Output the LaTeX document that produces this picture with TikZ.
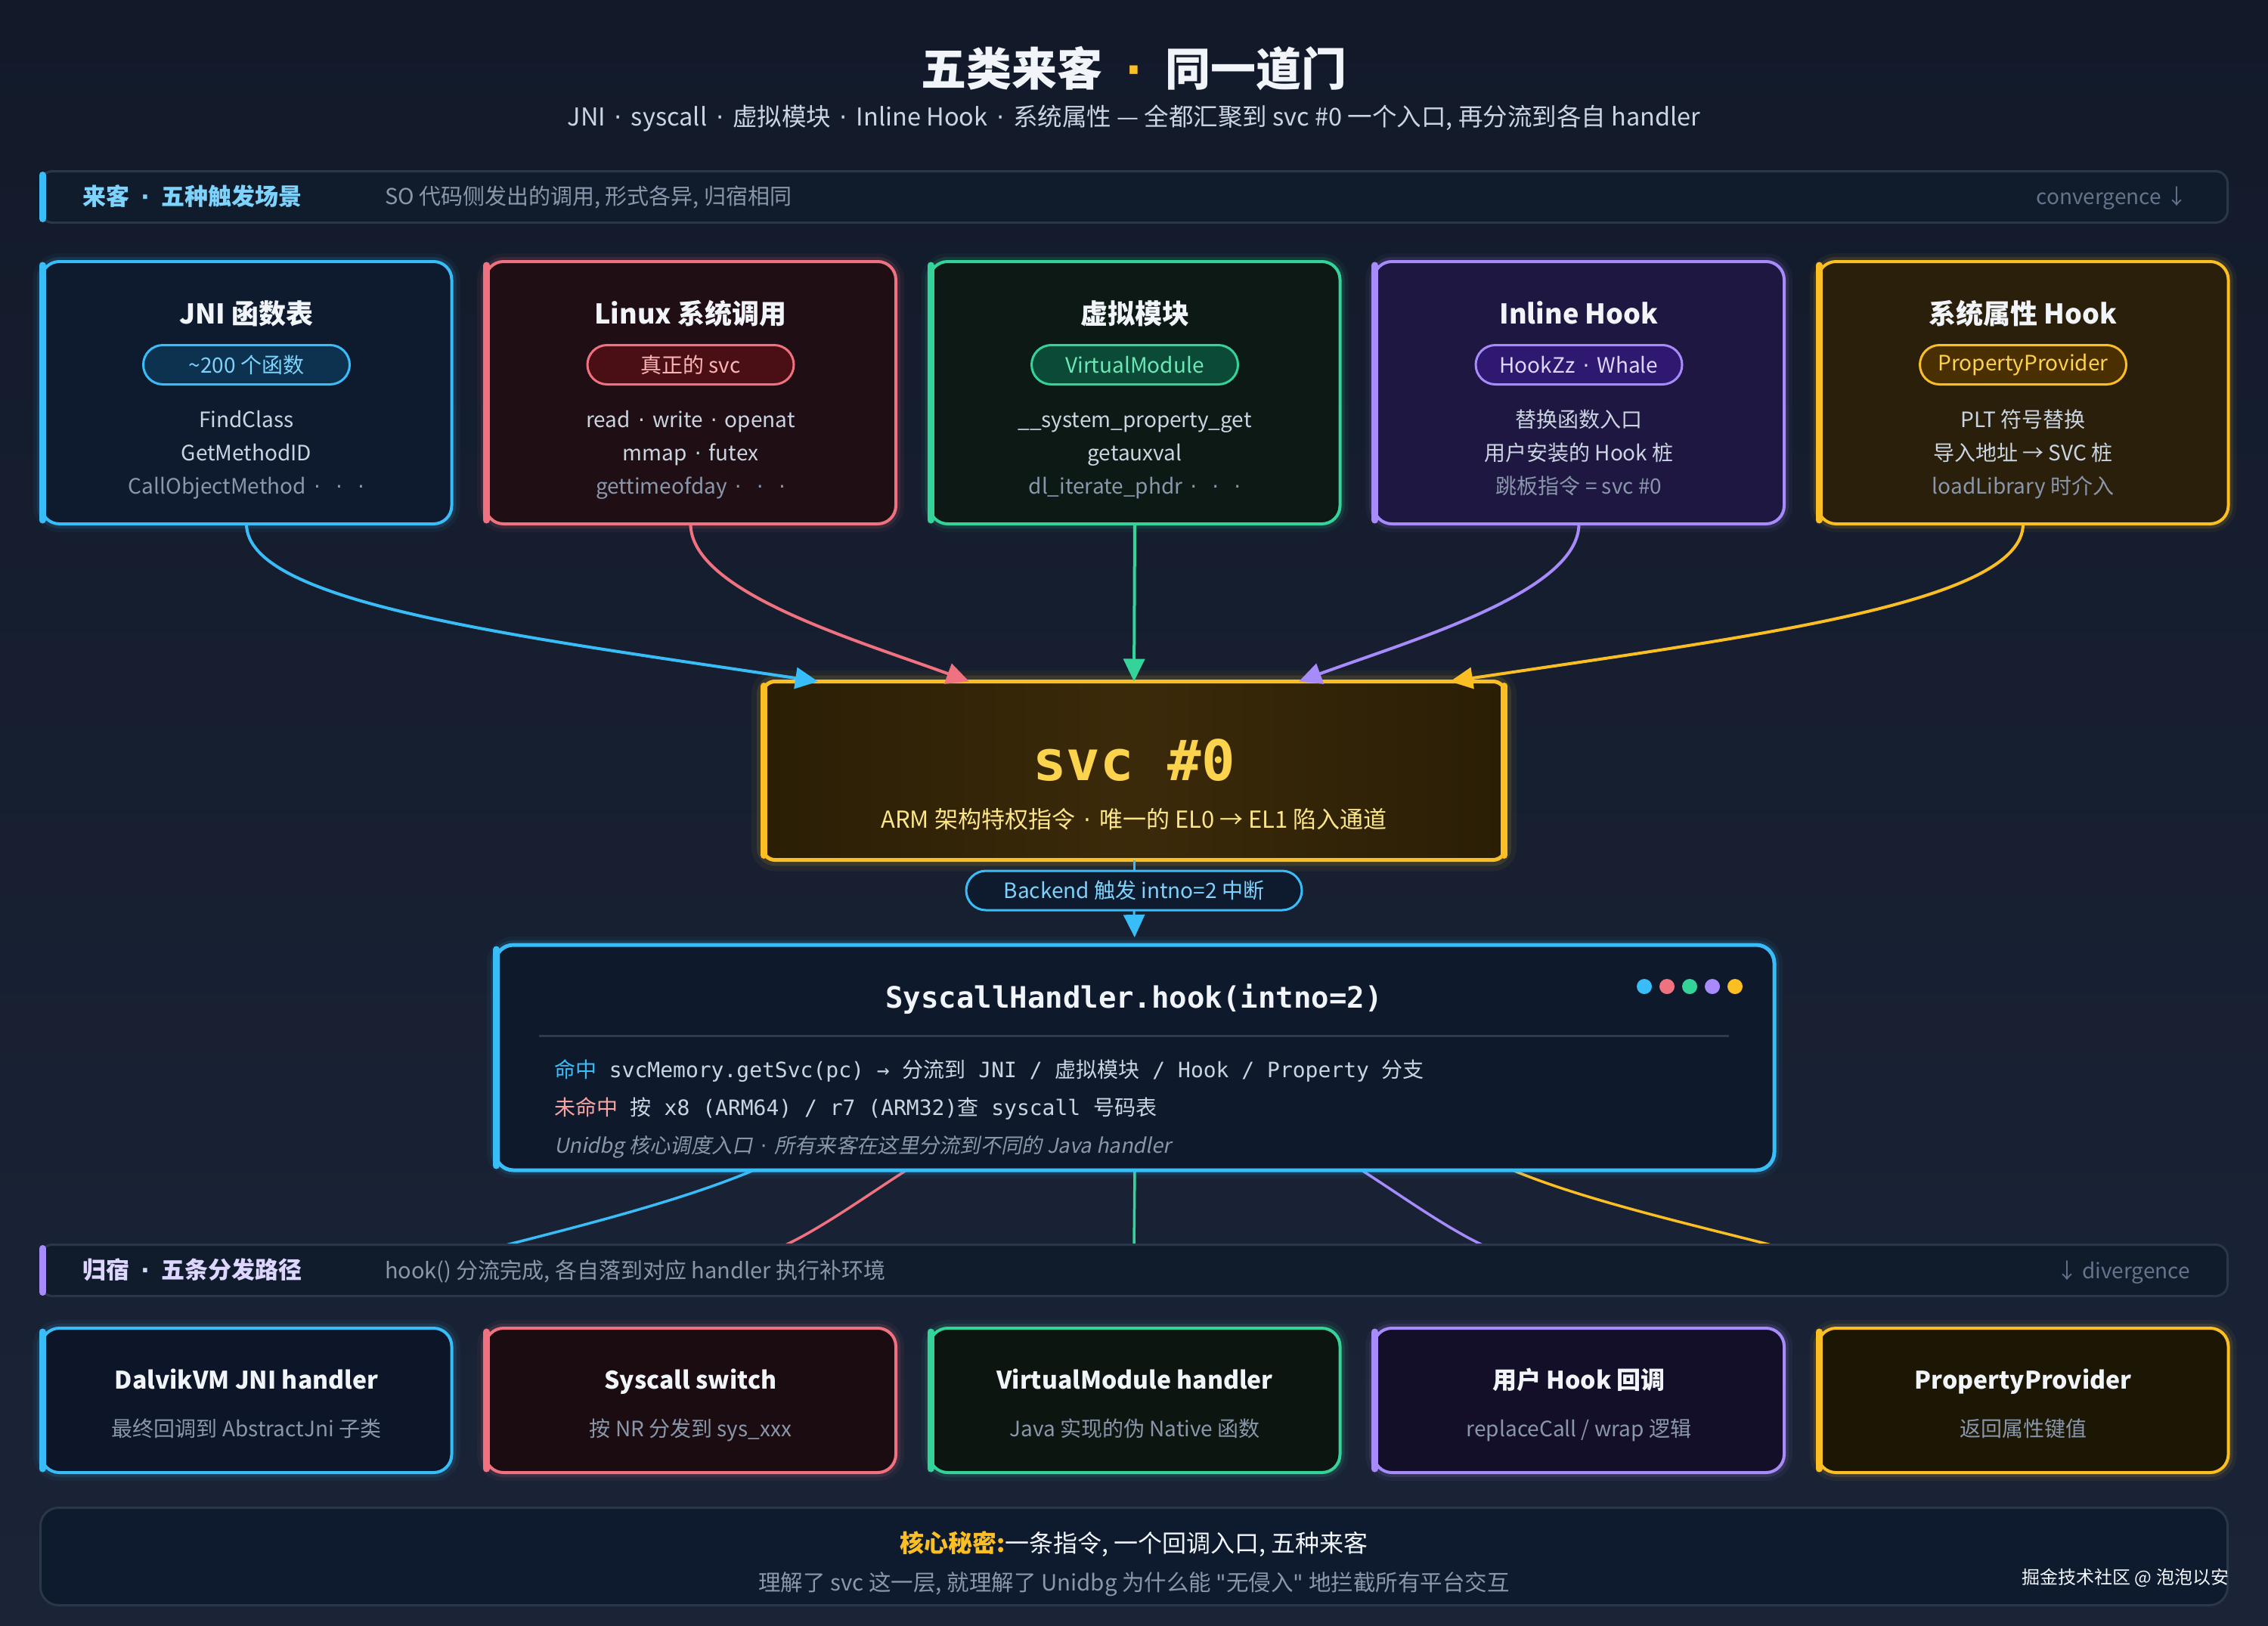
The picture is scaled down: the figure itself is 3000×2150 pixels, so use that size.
\documentclass[tikz,border=0pt]{standalone}
\usepackage{fontspec}
\setmainfont{Noto Sans CJK SC}
\newfontfamily\monof{DejaVu Sans Mono}
\newfontfamily\cjkf{Noto Sans CJK SC}
\newfontfamily\cjkit{Noto Sans CJK SC}[FakeSlant=0.2]
\newfontfamily\dejavu{DejaVu Sans}
\newcommand{\md}{\hspace{0.36em}{\dejavu ·}\hspace{0.36em}}
\newcommand{\mdw}{\hspace{0.5em}{\dejavu ·}\hspace{0.5em}}
\newcommand{\sq}{{\dejavu "}}
\usetikzlibrary{arrows.meta,calc}

\definecolor{bgtop}{HTML}{121A2A}
\definecolor{bgbot}{HTML}{1B2437}
\definecolor{cy}{HTML}{38BDF8}
\definecolor{pk}{HTML}{F0717F}
\definecolor{gn}{HTML}{34D399}
\definecolor{pu}{HTML}{A78BFA}
\definecolor{am}{HTML}{FBBF24}
\definecolor{txtW}{HTML}{F1F5F9}
\definecolor{txtL}{HTML}{CBD5E1}
\definecolor{txtD}{HTML}{8A97AB}
\definecolor{txtM}{HTML}{64748B}
\definecolor{barfill}{HTML}{101B2C}
\definecolor{barline}{HTML}{2A374B}
\definecolor{fcy}{HTML}{0E1B2E}
\definecolor{fpk}{HTML}{1F0E14}
\definecolor{fgn}{HTML}{0C1915}
\definecolor{fpu}{HTML}{1D1741}
\definecolor{fam}{HTML}{2A1F0B}
\definecolor{bcy}{HTML}{0C1628}
\definecolor{bpk}{HTML}{1A0C10}
\definecolor{bgn}{HTML}{0C1510}
\definecolor{bpu}{HTML}{140F29}
\definecolor{bam}{HTML}{1C1705}
\definecolor{pcy}{HTML}{0C3250}
\definecolor{ppk}{HTML}{4A0F14}
\definecolor{pgn}{HTML}{0B4A36}
\definecolor{ppu}{HTML}{2E1870}
\definecolor{pam}{HTML}{4A2F03}
\definecolor{tcy}{HTML}{7DD3FC}
\definecolor{tpk}{HTML}{FCB4B4}
\definecolor{tgn}{HTML}{6EE7B7}
\definecolor{tpu}{HTML}{DDD6FE}
\definecolor{tam}{HTML}{FCD34D}
\definecolor{amL}{HTML}{FDE68A}
\definecolor{svcA}{HTML}{2A1E05}
\definecolor{svcB}{HTML}{3B2A0A}
\definecolor{hdfill}{HTML}{0E1A2C}
\definecolor{sepc}{HTML}{2E3B4F}
\definecolor{miss}{HTML}{F9A3A3}
\definecolor{navy}{HTML}{0E1A2E}

\pgfdeclarelayer{back}
\pgfdeclarelayer{mid}
\pgfsetlayers{back,mid,main}

\tikzset{
  every node/.style={inner sep=0pt, outer sep=0pt},
  glow/.style={preaction={draw=#1, line width=22pt, draw opacity=0.05},
               preaction={draw=#1, line width=12pt, draw opacity=0.12}},
  topcard/.style={draw=#1, line width=4pt, rounded corners=24pt,
     minimum width=543pt, minimum height=347pt, glow=#1},
  botcard/.style={draw=#1, line width=4pt, rounded corners=24pt,
     minimum width=543pt, minimum height=191pt, glow=#1},
  stripe/.style={#1, line width=9pt, line cap=round},
  pill/.style={draw=#1, line width=3pt, rounded corners=26pt,
     minimum width=273pt, minimum height=52pt, font=\fontsize{28}{28}\selectfont},
  ctitle/.style={font=\fontsize{36}{36}\selectfont\bfseries, text=txtW, anchor=base},
  btitle/.style={font=\fontsize{32}{32}\selectfont\bfseries, text=txtW, anchor=base},
  cline/.style={font=\fontsize{28}{28}\selectfont, text=txtL, anchor=base},
  cdim/.style={font=\fontsize{28}{28}\selectfont, text=txtD, anchor=base},
  bsub/.style={font=\fontsize{28}{28}\selectfont, text=txtD, anchor=base},
  bar/.style={fill=barfill, draw=barline, line width=3pt, rounded corners=16pt,
     minimum width=2893pt, minimum height=68pt},
  flow/.style={line width=4pt, -{Triangle[length=30pt,width=28pt]}},
  outflow/.style={line width=3.5pt},
  dot/.style={circle, fill=#1, minimum size=20pt},
}

\begin{document}
\begin{tikzpicture}[x=1pt,y=-1pt]
\useasboundingbox (0,0) rectangle (3000,2150);
\begin{pgfonlayer}{back}
\shade[top color=bgtop, bottom color=bgbot] (0,0) rectangle (3000,2150);
\end{pgfonlayer}

% ---------- header ----------
\node[font=\fontsize{60}{60}\selectfont\bfseries, text=txtW] (title) at (1500,91)
  {五类来客{\color{am}\mdw}同一道门};
\node[font=\fontsize{32.5}{32.5}\selectfont, text=txtL, anchor=base] (sub) at (1500,166)
  {JNI\md syscall\md 虚拟模块\md Inline Hook\md 系统属性 — 全都汇聚到 svc \#0 一个入口, 再分流到各自 handler};

% ---------- section bar 1 ----------
\node[bar] (bar1) at (1500,260.5) {};
\draw[stripe=cy] ($(bar1.north west)+(3,5)$) -- ($(bar1.south west)+(3,-5)$);
\node[anchor=base west, font=\fontsize{31}{31}\selectfont\bfseries, text=tcy] (bar1l) at (109,271) {来客\mdw 五种触发场景};
\node[anchor=base west, font=\fontsize{29}{29}\selectfont, text=txtD] (bar1s) at (509,270) {SO 代码侧发出的调用, 形式各异, 归宿相同};
\node[anchor=base east, font=\fontsize{28}{28}\selectfont, text=txtM] (bar1r) at (2893,270) {convergence ↓};

% ---------- top cards ----------
\node[topcard=cy, fill=fcy] (c1) at (326,519.5) {};
\node[topcard=pk, fill=fpk] (c2) at (913.5,519.5) {};
\node[topcard=gn, fill=fgn] (c3) at (1501,519.5) {};
\node[topcard=pu, fill=fpu] (c4) at (2088.5,519.5) {};
\node[topcard=am, fill=fam] (c5) at (2676,519.5) {};
\draw[stripe=cy] ($(c1.north west)+(1.5,5)$) -- ($(c1.south west)+(1.5,-5)$);
\draw[stripe=pk] ($(c2.north west)+(1.5,5)$) -- ($(c2.south west)+(1.5,-5)$);
\draw[stripe=gn] ($(c3.north west)+(1.5,5)$) -- ($(c3.south west)+(1.5,-5)$);
\draw[stripe=pu] ($(c4.north west)+(1.5,5)$) -- ($(c4.south west)+(1.5,-5)$);
\draw[stripe=am] ($(c5.north west)+(1.5,5)$) -- ($(c5.south west)+(1.5,-5)$);

\node[ctitle] (c1t) at (326,428) {JNI 函数表};
\node[pill=cy, fill=pcy, text=tcy] (c1p) at (326,482.5) {\textasciitilde200 个函数};
\node[cline] (c1a) at (326,565) {FindClass};
\node[cline] (c1b) at (326,609) {GetMethodID};
\node[cdim] (c1c) at (326,653) {CallObjectMethod\md\md\md};

\node[ctitle] (c2t) at (913.5,428) {Linux 系统调用};
\node[pill=pk, fill=ppk, text=tpk] (c2p) at (913.5,482.5) {真正的 svc};
\node[cline] (c2a) at (913.5,565) {read\md write\md openat};
\node[cline] (c2b) at (913.5,609) {mmap\md futex};
\node[cdim] (c2c) at (913.5,653) {gettimeofday\md\md\md};

\node[ctitle] (c3t) at (1501,428) {虚拟模块};
\node[pill=gn, fill=pgn, text=tgn] (c3p) at (1501,482.5) {VirtualModule};
\node[cline] (c3a) at (1501,565) {\_\_system\_property\_get};
\node[cline] (c3b) at (1501,609) {getauxval};
\node[cdim] (c3c) at (1501,653) {dl\_iterate\_phdr\md\md\md};

\node[ctitle] (c4t) at (2088.5,428) {Inline Hook};
\node[pill=pu, fill=ppu, text=tpu] (c4p) at (2088.5,482.5) {HookZz\md Whale};
\node[cline] (c4a) at (2088.5,565) {替换函数入口};
\node[cline] (c4b) at (2088.5,609) {用户安装的 Hook 桩};
\node[cdim] (c4c) at (2088.5,653) {跳板指令 = svc \#0};

\node[ctitle] (c5t) at (2676,428) {系统属性 Hook};
\node[pill=am, fill=pam, text=tam] (c5p) at (2676,482.5) {PropertyProvider};
\node[cline] (c5a) at (2676,565) {PLT 符号替换};
\node[cline] (c5b) at (2676,609) {导入地址 → SVC 桩};
\node[cdim] (c5c) at (2676,653) {loadLibrary 时介入};

% ---------- svc box ----------
\node[draw=am, line width=5pt, rounded corners=16pt, minimum width=982pt, minimum height=236pt,
      left color=svcA, right color=svcA, middle color=svcB,
      preaction={draw=am, line width=30pt, draw opacity=0.05},
      preaction={draw=am, line width=16pt, draw opacity=0.12}] (svc) at (1500,1019.5) {};
\draw[stripe=am] ($(svc.north west)+(1.5,6)$) -- ($(svc.south west)+(1.5,-6)$);
\draw[stripe=am] ($(svc.north east)+(-1.5,6)$) -- ($(svc.south east)+(-1.5,-6)$);
\node[font=\monof\bfseries\fontsize{74}{74}\selectfont, text=tam, anchor=base] (svct) at (1500,1032) {svc \#0};
\node[font=\fontsize{31}{31}\selectfont, text=amL, anchor=base] (svcs) at (1500,1095)
  {ARM 架构特权指令\md 唯一的 EL0 → EL1 陷入通道};

% ---------- incoming connectors ----------
\coordinate (s1) at ($(svc.north)+(-418,0)$);
\coordinate (s2) at ($(svc.north)+(-218,0)$);
\coordinate (s3) at (svc.north);
\coordinate (s4) at ($(svc.north)+(218,0)$);
\coordinate (s5) at ($(svc.north)+(418,0)$);
\draw[flow, cy] (c1.south) .. controls +(0,105) and +(-400,-60) .. (s1);
\draw[flow, pk] (c2.south) .. controls +(0,90) and +(-150,-55) .. (s2);
\draw[flow, gn] (c3.south) -- (s3);
\draw[flow, pu] (c4.south) .. controls +(0,90) and +(150,-55) .. (s4);
\draw[flow, am] (c5.south) .. controls +(0,105) and +(400,-60) .. (s5);

% ---------- backend pill ----------
\node[draw=cy, line width=3pt, fill=navy, rounded corners=26pt, minimum width=444pt,
      minimum height=52pt, font=\fontsize{28}{28}\selectfont, text=tcy] (bk) at (1500,1178)
  {Backend 触发 intno=2 中断};

% ---------- handler ----------
\node[draw=cy, line width=5pt, rounded corners=24pt, fill=hdfill, minimum width=1692pt,
      minimum height=298pt, glow=cy] (hd) at (1501,1399) {};
\draw[stripe=cy] ($(hd.north west)+(1.5,6)$) -- ($(hd.south west)+(1.5,-6)$);
\draw[cy, line width=3pt] (svc.south) -- (bk.north);
\draw[cy, line width=3pt, -{Triangle[length=30pt,width=28pt]}, shorten >=10pt] (bk.south) -- (hd.north);
\node[font=\monof\bfseries\fontsize{39}{39}\selectfont, text=txtW, anchor=base] (hdt) at (1500,1333)
  {SyscallHandler.hook(intno=2)};
\node[dot=cy] (d1) at (2175,1305) {};
\node[dot=pk] (d2) at (2205,1305) {};
\node[dot=gn] (d3) at (2235,1305) {};
\node[dot=pu] (d4) at (2265,1305) {};
\node[dot=am] (d5) at (2295,1305) {};
\draw[sepc, line width=3pt] ($(hd.west)+(58,-29)$) -- ($(hd.east)+(-60,-29)$);
\node[anchor=base west, font=\monof\fontsize{28}{28}\selectfont, text=txtL] (hd1) at (733,1425)
  {{\cjkf\color{cy}命中} svcMemory.getSvc(pc) → {\cjkf 分流到} JNI / {\cjkf 虚拟模块} / Hook / Property {\cjkf 分支}};
\node[anchor=base west, font=\monof\fontsize{28}{28}\selectfont, text=txtL] (hd2) at (733,1475)
  {{\cjkf\color{miss}未命中} {\cjkf 按} x8 (ARM64) / r7 (ARM32){\cjkf 查} syscall {\cjkf 号码表}};
\node[anchor=base west, font=\cjkit\fontsize{27.3}{27.3}\selectfont, text=txtD] (hd3) at (733,1525)
  {Unidbg 核心调度入口\md 所有来客在这里分流到不同的 Java handler};

% ---------- section bar 2 ----------
\node[bar] (bar2) at (1500,1680.5) {};
\draw[stripe=pu] ($(bar2.north west)+(3,5)$) -- ($(bar2.south west)+(3,-5)$);
\node[anchor=base west, font=\fontsize{31}{31}\selectfont\bfseries, text=tpu] (bar2l) at (109,1691) {归宿\mdw 五条分发路径};
\node[anchor=base west, font=\fontsize{29}{29}\selectfont, text=txtD] (bar2s) at (509,1691) {hook() 分流完成, 各自落到对应 handler 执行补环境};
\node[anchor=base east, font=\fontsize{28}{28}\selectfont, text=txtM] (bar2r) at (2897,1691) {↓ divergence};

% ---------- outgoing connectors ----------
\coordinate (o1) at ($(hd.south)+(-504,0)$);
\coordinate (o2) at ($(hd.south)+(-302,0)$);
\coordinate (o3) at (hd.south);
\coordinate (o4) at ($(hd.south)+(300,0)$);
\coordinate (o5) at ($(hd.south)+(500,0)$);
\coordinate (e1) at ($(bar2.north)+(-829,0)$);
\coordinate (e2) at ($(bar2.north)+(-460,0)$);
\coordinate (e3) at (bar2.north);
\coordinate (e4) at ($(bar2.north)+(460,0)$);
\coordinate (e5) at ($(bar2.north)+(841,0)$);
\begin{pgfonlayer}{mid}
\draw[outflow, cy] (o1) .. controls +(-90,38) and +(110,-28) .. (e1);
\draw[outflow, pk] (o2) .. controls +(-50,32) and +(50,-24) .. (e2);
\draw[outflow, gn] (o3) -- (e3);
\draw[outflow, pu] (o4) .. controls +(50,32) and +(-50,-24) .. (e4);
\draw[outflow, am] (o5) .. controls +(90,38) and +(-110,-28) .. (e5);
\end{pgfonlayer}

% ---------- bottom cards ----------
\node[botcard=cy, fill=bcy] (b1) at (326,1852.5) {};
\node[botcard=pk, fill=bpk] (b2) at (913.5,1852.5) {};
\node[botcard=gn, fill=bgn] (b3) at (1501,1852.5) {};
\node[botcard=pu, fill=bpu] (b4) at (2088.5,1852.5) {};
\node[botcard=am, fill=bam] (b5) at (2676,1852.5) {};
\draw[stripe=cy] ($(b1.north west)+(1.5,5)$) -- ($(b1.south west)+(1.5,-5)$);
\draw[stripe=pk] ($(b2.north west)+(1.5,5)$) -- ($(b2.south west)+(1.5,-5)$);
\draw[stripe=gn] ($(b3.north west)+(1.5,5)$) -- ($(b3.south west)+(1.5,-5)$);
\draw[stripe=pu] ($(b4.north west)+(1.5,5)$) -- ($(b4.south west)+(1.5,-5)$);
\draw[stripe=am] ($(b5.north west)+(1.5,5)$) -- ($(b5.south west)+(1.5,-5)$);
\node[btitle] (b1t) at (326,1837) {DalvikVM JNI handler};
\node[bsub] (b1s) at (326,1900) {最终回调到 AbstractJni 子类};
\node[btitle] (b2t) at (913.5,1837) {Syscall switch};
\node[bsub] (b2s) at (913.5,1900) {按 NR 分发到 sys\_xxx};
\node[btitle] (b3t) at (1501,1837) {VirtualModule handler};
\node[bsub] (b3s) at (1501,1900) {Java 实现的伪 Native 函数};
\node[btitle] (b4t) at (2088.5,1837) {用户 Hook 回调};
\node[bsub] (b4s) at (2088.5,1900) {replaceCall / wrap 逻辑};
\node[btitle] (b5t) at (2676,1837) {PropertyProvider};
\node[bsub] (b5s) at (2676,1900) {返回属性键值};

% ---------- footer ----------
\node[fill=navy, draw=barline, line width=3pt, rounded corners=24pt, minimum width=2893pt,
      minimum height=129pt] (ft) at (1500,2059) {};
\node[anchor=base, font=\fontsize{32}{32}\selectfont, text=txtW] (ft1) at (1500,2053)
  {{\bfseries\color{am}核心秘密:}一条指令, 一个回调入口, 五种来客};
\node[anchor=base, font=\fontsize{29.5}{29.5}\selectfont, text=txtD] (ft2) at (1500,2104)
  {理解了 svc 这一层, 就理解了 Unidbg 为什么能 \sq 无侵入\sq{} 地拦截所有平台交互};
\node[anchor=base east, font=\fontsize{24}{24}\selectfont, text=txtW] (wm) at (2948,2095)
  {掘金技术社区 @ 泡泡以安};
\end{tikzpicture}
\end{document}
